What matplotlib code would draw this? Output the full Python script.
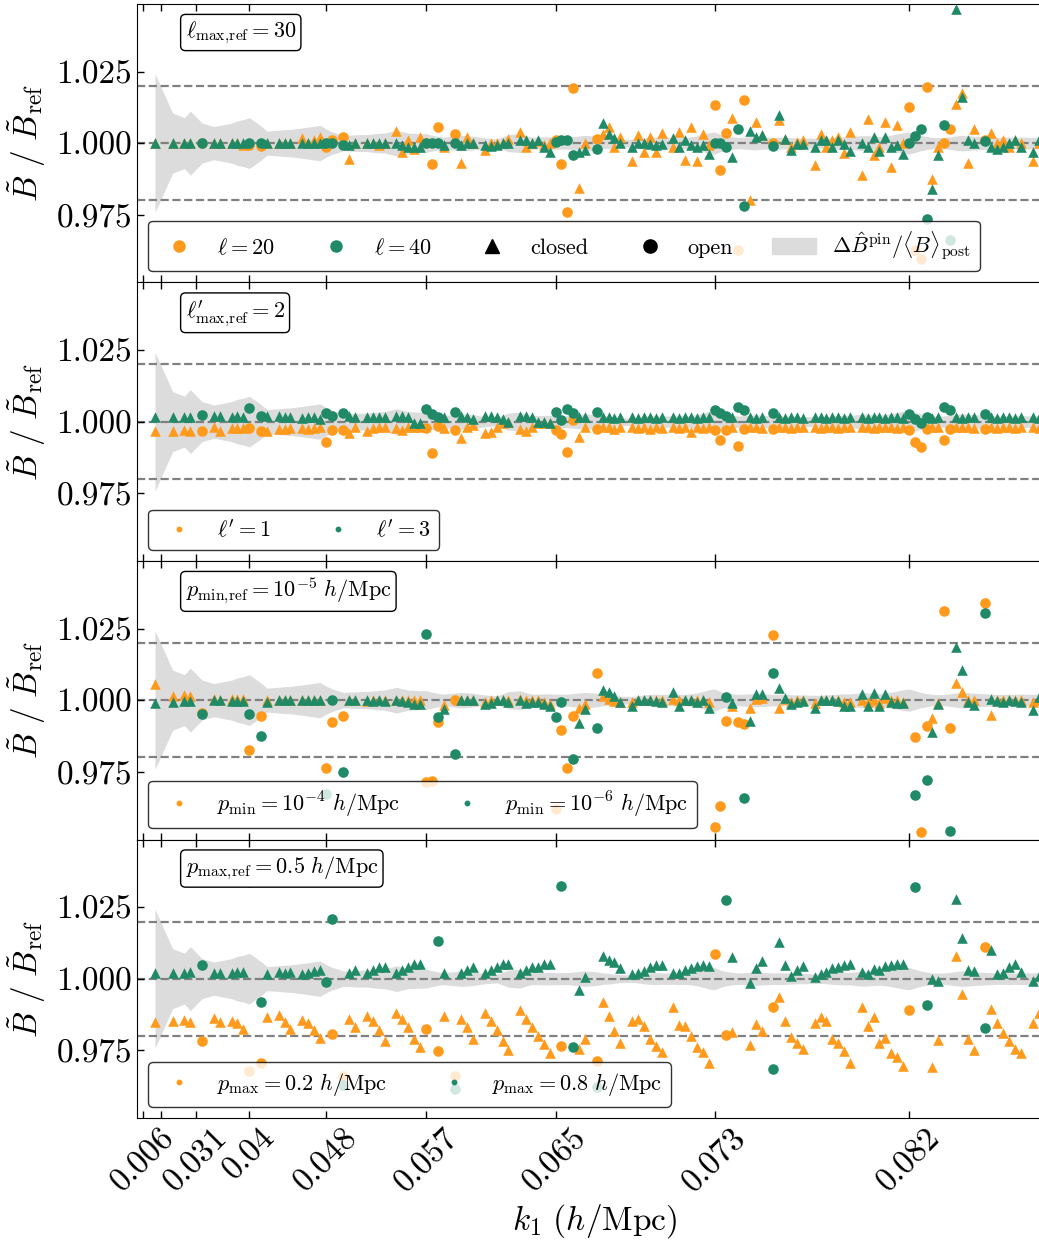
from __future__ import annotations

import matplotlib

matplotlib.use("Agg")
import matplotlib.pyplot as plt
import numpy as np
from matplotlib.lines import Line2D
from matplotlib.patches import Patch

nan = np.nan

# triangle configurations along the x axis (position in the sorted list)
tri_index = [
    2, 5, 7, 8, 10, 12, 13, 15, 16, 17,
    18, 20, 21, 23, 24, 25, 27, 28, 29, 30,
    31, 32, 34, 35, 36, 38, 39, 40, 41, 43,
    44, 45, 46, 47, 48, 49, 50, 51, 53, 54,
    55, 56, 58, 59, 60, 61, 62, 64, 65, 66,
    67, 68, 69, 70, 71, 72, 73, 74, 75, 77,
    78, 79, 80, 81, 83, 84, 85, 86, 87, 88,
    90, 91, 92, 93, 94, 95, 96, 97, 98, 99,
    100, 101, 102, 103, 104, 105, 107, 108, 109, 110,
    111, 112, 114, 115, 116, 117, 118, 119, 120, 122,
    123, 124, 125, 126, 127, 128, 129, 130, 131, 132,
    133, 134, 135, 136, 137, 138, 139, 140, 141, 143,
    144, 145, 146, 147, 148, 149, 151, 152,
]
# 1 = open triangle (circle marker), 0 = closed (triangle marker)
is_open = [
    0, 0, 0, 0, 1, 0, 0, 0, 0, 0,
    1, 1, 0, 0, 0, 0, 0, 0, 0, 0,
    1, 1, 1, 0, 0, 0, 0, 0, 0, 0,
    0, 0, 0, 0, 1, 1, 1, 0, 1, 0,
    0, 0, 0, 0, 0, 0, 0, 0, 0, 0,
    0, 0, 0, 1, 1, 1, 1, 0, 0, 1,
    0, 0, 0, 0, 0, 0, 0, 0, 0, 0,
    0, 0, 0, 0, 0, 0, 0, 1, 1, 1,
    0, 1, 1, 0, 0, 0, 1, 0, 0, 0,
    0, 0, 0, 0, 0, 0, 0, 0, 0, 0,
    0, 0, 0, 0, 0, 0, 0, 1, 1, 1,
    1, 0, 0, 1, 1, 0, 0, 0, 0, 1,
    0, 0, 0, 0, 0, 0, 0, 0,
]
# half width of the grey band, Delta B^pin / <B>_post
band_halfwidth = [
    0.0243, 0.0105, 0.0089, 0.0112, 0.0070, 0.0058, 0.0062, 0.0070, 0.0078, 0.0082,
    0.0089, 0.0060, 0.0042, 0.0045, 0.0047, 0.0048, 0.0053, 0.0056, 0.0059, 0.0062,
    0.0050, 0.0040, 0.0027, 0.0028, 0.0029, 0.0030, 0.0032, 0.0034, 0.0035, 0.0045,
    0.0040, 0.0035, 0.0034, 0.0033, 0.0033, 0.0028, 0.0024, 0.0021, 0.0025, 0.0027,
    0.0026, 0.0024, 0.0018, 0.0016, 0.0015, 0.0022, 0.0030, 0.0033, 0.0026, 0.0021,
    0.0021, 0.0022, 0.0022, 0.0021, 0.0021, 0.0021, 0.0023, 0.0025, 0.0027, 0.0024,
    0.0020, 0.0019, 0.0016, 0.0014, 0.0013, 0.0015, 0.0018, 0.0020, 0.0021, 0.0020,
    0.0020, 0.0021, 0.0020, 0.0022, 0.0025, 0.0030, 0.0036, 0.0039, 0.0030, 0.0025,
    0.0022, 0.0020, 0.0021, 0.0022, 0.0024, 0.0022, 0.0020, 0.0021, 0.0020, 0.0019,
    0.0018, 0.0018, 0.0017, 0.0017, 0.0018, 0.0020, 0.0021, 0.0022, 0.0022, 0.0026,
    0.0026, 0.0024, 0.0023, 0.0025, 0.0028, 0.0032, 0.0036, 0.0039, 0.0033, 0.0027,
    0.0023, 0.0020, 0.0019, 0.0020, 0.0022, 0.0025, 0.0027, 0.0026, 0.0024, 0.0022,
    0.0021, 0.0020, 0.0020, 0.0021, 0.0020, 0.0021, 0.0020, 0.0021,
]

# panel 1: ell = 20 and ell = 40 against ell_max,ref = 30
ratio_ell20 = [
    1.000, 1.000, 1.000, 1.000, 1.000, 1.000, 1.000, 1.000, 1.000, 0.9995,
    0.9995, 0.999, 1.000, 1.000, 1.000, 1.000, 1.0018, 1.000, 1.001, 1.0022,
    0.9986, 1.0012, 1.002, 0.9945, 1.000, 1.000, 1.000, 0.9995, 1.000, 1.0044,
    0.9968, 1.0012, 0.998, 1.0021, 1.000, 0.9927, 1.0056, 0.9986, 1.0033, 0.993,
    1.0021, 1.000, 0.9975, 1.000, 1.000, 1.000, 1.0015, 1.0039, 0.9985, 1.000,
    1.0007, 0.9995, 1.000, 1.0012, 0.9927, 0.9758, 1.0194, 0.9843, 1.000, 1.0015,
    1.0033, 1.0058, 0.9988, 1.0021, 0.9936, 1.0027, 0.9968, 1.0021, 0.9968, 1.0035,
    0.9986, 1.0039, 0.9942, 1.0058, 0.9937, 1.0033, 0.9995, 1.0132, 0.9906, 1.0036,
    1.0089, 0.9624, 1.0152, 0.9801, 1.0074, 1.0027, 1.000, 1.008, 1.0015, 0.9986,
    1.0004, 1.001, 0.9922, 1.0033, 0.9986, 1.001, 1.0023, 0.9965, 1.0039, 0.9889,
    1.0085, 0.996, 0.9986, 1.0074, 0.9918, 1.0062, 1.000, 1.0126, 0.9624, 0.9595,
    1.0196, 0.9875, 0.9986, 1.000, 1.005, 1.0138, 1.0175, 0.993, 1.005, 1.0012,
    1.0035, 1.000, 1.001, 0.9986, 1.001, 1.000, 0.9937, 1.000,
]
ratio_ell40 = [
    1.000, 1.000, 1.000, 1.000, 1.000, 1.000, 1.000, 1.000, 1.000, 1.000,
    1.000, 1.000, 1.000, 1.000, 1.000, 1.000, 1.000, 1.000, 1.000, 1.000,
    1.000, 1.000, 0.9995, 0.9995, 1.000, 1.000, 1.000, 1.000, 1.000, 1.000,
    0.9995, 0.9988, 0.9985, 0.9988, 1.000, 1.000, 1.000, 0.9995, 1.000, 0.9995,
    1.000, 1.000, 0.9995, 0.999, 0.9995, 1.000, 1.000, 1.0012, 1.001, 1.000,
    1.001, 0.9985, 0.9968, 1.0004, 1.001, 1.001, 0.996, 0.9968, 0.9977, 0.9978,
    1.007, 1.0033, 1.0019, 1.000, 0.9988, 1.000, 1.000, 0.9998, 0.9995, 0.9998,
    1.0019, 0.9986, 1.001, 0.9992, 0.9988, 0.9995, 0.9963, 1.000, 1.000, 0.9986,
    0.9953, 1.0048, 0.9779, 1.0042, 1.0021, 1.0027, 0.9989, 1.0097, 1.0015, 0.9977,
    0.9998, 0.9998, 0.9986, 1.001, 1.001, 0.9986, 1.001, 0.9998, 0.9974, 1.000,
    0.9988, 1.0023, 0.9974, 1.0023, 0.9986, 0.9995, 0.9963, 1.000, 1.0025, 1.005,
    0.9733, 0.984, 0.9957, 1.0064, 0.966, 1.0468, 1.0161, 1.0012, 1.000, 1.0007,
    0.9986, 0.998, 0.9988, 1.000, 1.0012, 0.9986, 0.9968, 1.0012,
]

# panel 2: ell' = 1 and ell' = 3 against ell'_max,ref = 2
ratio_ellp1 = [
    0.9968, 0.9968, 0.9971, 0.9968, 0.9967, 0.9982, 0.9968, 0.9977, 0.9977, 0.9977,
    0.9977, 0.9968, 0.9968, 0.9973, 0.9973, 0.9977, 0.9977, 0.9973, 0.9977, 0.9982,
    0.993, 0.9971, 0.9971, 0.9959, 0.9982, 0.9968, 0.9977, 0.9982, 0.9982, 0.9977,
    0.9971, 0.9982, 0.9982, 0.9982, 0.9977, 0.9889, 0.9986, 0.9977, 0.9971, 0.9942,
    0.9982, 0.9988, 0.9961, 0.9965, 0.9982, 0.9994, 1.000, 0.9973, 0.9968, 0.9982,
    0.9994, 0.9994, 0.9994, 0.9971, 0.9957, 0.9895, 1.0004, 0.9947, 0.9982, 0.9975,
    0.998, 0.998, 0.9975, 0.998, 0.9982, 0.9978, 0.998, 0.9975, 0.998, 0.9978,
    0.998, 0.9978, 0.998, 0.9965, 0.998, 0.9978, 0.998, 0.997, 0.9935, 0.997,
    0.998, 0.9915, 0.9975, 0.998, 0.998, 0.9978, 0.9975, 0.998, 0.998, 0.9978,
    0.998, 0.998, 0.998, 0.9978, 0.998, 0.998, 0.9978, 0.998, 0.998, 0.998,
    0.998, 0.9978, 0.998, 0.998, 0.998, 0.9978, 0.998, 0.997, 0.993, 0.991,
    0.9975, 0.998, 0.998, 0.9935, 0.9975, 0.998, 0.998, 0.998, 0.9978, 0.9975,
    0.998, 0.9978, 0.998, 0.998, 0.9978, 0.998, 0.998, 0.9978,
]
ratio_ellp3 = [
    1.0015, 1.0015, 1.0015, 1.0015, 1.0023, 1.0018, 1.0018, 1.0015, 1.0018, 1.0015,
    1.0047, 1.002, 1.0018, 1.0018, 1.0015, 1.0015, 1.0014, 1.0015, 1.0015, 1.0008,
    1.0029, 1.002, 1.0029, 1.0018, 1.0015, 1.0015, 1.0015, 1.0015, 1.0015, 1.0018,
    1.0018, 1.0015, 0.9994, 0.9994, 1.0043, 1.0027, 1.0015, 1.0015, 1.0032, 1.0018,
    1.0015, 1.0008, 1.0018, 1.002, 1.0015, 1.0008, 1.000, 1.0018, 1.0018, 1.0015,
    1.000, 1.000, 0.9994, 1.0032, 1.0006, 1.0043, 1.0029, 1.0015, 1.0015, 1.0035,
    1.0015, 1.0015, 1.0012, 1.0015, 1.0015, 1.0012, 1.0015, 1.0015, 1.0012, 1.0015,
    1.0015, 1.0012, 1.0015, 1.0015, 1.0012, 1.0015, 1.0015, 1.004, 1.003, 1.002,
    1.0015, 1.005, 1.004, 1.0015, 1.0012, 1.0015, 1.003, 1.0015, 1.0012, 1.0015,
    1.0015, 1.0012, 1.0015, 1.0015, 1.0012, 1.0015, 1.0015, 1.0012, 1.0015, 1.0015,
    1.0012, 1.0015, 1.0015, 1.0012, 1.0015, 1.0015, 1.0012, 1.0025, 1.001, 0.9995,
    1.0015, 1.0012, 1.0015, 1.005, 1.004, 1.0015, 1.0012, 1.0015, 1.0015, 1.0025,
    1.0015, 1.0012, 1.0015, 1.0015, 1.0012, 1.0015, 1.0015, 1.0012,
]

# panel 3: p_min = 1e-4 and 1e-6 h/Mpc against p_min,ref = 1e-5 h/Mpc
ratio_pmin4 = [
    1.0055, 1.0016, 1.0019, 1.0014, 0.9955, 1.0003, 1.0002, 1.0005, 1.0005, 1.0003,
    0.9827, 0.9946, 1.0002, 1.0002, 1.0002, 1.0002, 1.000, 1.000, 1.000, 1.000,
    0.9763, 0.9925, 0.9946, 1.0002, 1.0002, 0.9998, 1.0002, 1.0002, 1.000, 1.0002,
    1.0002, 1.0002, 1.000, 1.000, 0.9712, 0.9716, 0.9924, 0.9982, 1.000, 1.0002,
    1.0002, 1.0002, 0.9995, 1.000, 1.0002, 1.0002, 1.0002, 1.0003, 1.0002, 1.0002,
    1.000, 0.9995, 0.9985, 0.9619, 0.9894, 0.9763, 0.9946, 0.9973, 0.9985, 1.0094,
    1.0014, 1.0005, 0.9996, 0.9993, 0.9995, 1.0002, 1.0002, 1.0002, 1.0002, 1.000,
    1.0005, 1.000, 1.000, 1.0002, 1.0002, 1.000, 0.9995, 0.9556, 0.963, 0.9926,
    0.998, 0.9924, 0.9915, 0.9973, 1.0005, 1.0008, 1.0227, 0.9971, 1.0005, 0.9995,
    1.000, 1.000, 0.999, 1.000, 1.0002, 1.000, 1.000, 0.9995, 0.9995, 1.0002,
    0.9995, 1.000, 0.999, 1.0008, 1.000, 1.000, 0.9995, nan, 0.987, 0.9537,
    0.9909, 0.9938, 0.999, 1.0312, 0.9903, 1.0061, 1.0028, 1.0002, 1.000, 1.0339,
    0.9947, 1.000, 1.0002, 1.0002, 1.000, 1.0002, 0.9995, 1.0002,
]
ratio_pmin6 = [
    0.9991, 0.9993, 0.9996, 0.9996, 0.9953, 1.000, 1.000, 0.9998, 0.9998, 0.9998,
    0.9953, 0.9874, 0.9995, 1.000, 1.000, 1.000, 1.000, 1.000, 1.000, 1.000,
    0.9671, 0.9999, 0.975, 1.000, 1.000, 1.000, 0.9998, 1.000, 0.9998, 1.000,
    0.9998, 0.9995, 0.9988, 0.9985, 1.023, nan, 0.9942, 0.997, 0.9812, 1.000,
    1.000, 1.000, 0.9988, 0.999, 1.000, 1.000, 0.9995, 1.000, 0.999, 0.9995,
    0.9995, 0.9985, 0.998, 0.9942, 0.9993, nan, 0.9795, 0.992, 0.997, 0.9901,
    1.0037, 1.0028, 1.0014, 0.9993, 0.998, 1.000, 1.000, 1.000, 0.9998, 0.9995,
    1.0028, 0.998, 1.000, 1.000, 0.9995, 1.000, 0.9973, nan, nan, 1.0012,
    0.999, nan, 0.9657, 0.9926, 1.002, 1.0023, 1.0095, 1.0043, 1.0008, 0.9985,
    0.9995, 0.9998, 0.9973, 1.000, 1.000, 1.000, 0.9998, 0.998, 0.998, 1.0023,
    0.998, 1.0026, 0.998, 1.002, 0.9995, 0.999, 0.999, nan, 0.9667, nan,
    0.9719, 0.9889, 0.9985, nan, 0.9541, 1.0187, 1.0105, 0.9993, 0.9982, 1.0306,
    1.0005, 0.9998, 0.9995, 1.000, 0.9998, 0.9995, 0.9967, 1.0012,
]

# panel 4: p_max = 0.2 and 0.8 h/Mpc against p_max,ref = 0.5 h/Mpc
ratio_pmax02 = [
    0.9848, 0.9851, 0.9854, 0.9848, 0.9781, 0.9863, 0.9848, 0.9851, 0.9843, 0.9825,
    0.9677, 0.9705, 0.9865, 0.9871, 0.9848, 0.9825, 0.9854, 0.9843, 0.982, 0.9793,
    nan, 0.9807, 0.966, 0.986, 0.983, 0.987, 0.985, 0.982, 0.978, 0.988,
    0.986, 0.983, 0.979, 0.976, 0.9824, nan, 0.9747, 0.987, 0.966, 0.986,
    0.983, 0.979, 0.988, 0.985, 0.982, 0.978, 0.975, 0.989, 0.986, 0.983,
    0.980, 0.977, 0.974, nan, 0.9765, nan, nan, 0.9755, 0.9787, 0.9712,
    0.9917, 0.987, 0.9817, 0.9773, 0.9853, 0.9859, 0.9833, 0.979, 0.9765, 0.9744,
    0.9901, 0.9839, 0.9835, 0.980, 0.9759, 0.9744, 0.9703, 1.0085, nan, 0.9801,
    0.9812, nan, nan, 0.9767, 0.984, 0.9817, 0.9901, 0.9936, 0.9851, 0.9794,
    0.9773, 0.9755, 0.9845, 0.9866, 0.9853, 0.9788, 0.9775, 0.9746, 0.9705, 0.9901,
    0.9833, 0.9866, 0.9773, 0.9793, 0.9741, 0.9724, 0.9694, 0.9891, nan, nan,
    nan, 0.9691, 0.9785, nan, nan, 1.0078, 0.9948, 0.9787, 0.975, 1.0111,
    0.9892, 0.9845, 0.9811, 0.9781, 0.9755, 0.974, 0.9843, 0.988,
]
ratio_pmax08 = [
    1.0019, 1.002, 1.002, 1.0023, 1.0047, 1.002, 1.002, 1.0019, 1.0023, 1.0025,
    1.034, 0.9918, 1.0018, 1.0025, 1.002, 1.0025, 1.0016, 1.002, 1.0026, 1.003,
    0.9988, 1.0209, 0.9627, 1.002, 1.003, 1.002, 1.003, 1.004, 1.004, 1.002,
    1.003, 1.004, 1.005, 1.005, nan, nan, 1.0132, 1.002, 0.9615, 1.002,
    1.003, 1.004, 1.002, 1.003, 1.004, 1.005, 1.005, 1.002, 1.003, 1.004,
    1.004, 1.005, 1.005, nan, 1.0324, nan, 0.9761, 0.9959, 1.0006, 0.962,
    1.0078, 1.0066, 1.0058, 1.0037, 1.0017, 1.002, 1.0027, 1.0041, 1.0047, 1.0047,
    1.002, 1.002, 1.0029, 1.0037, 1.0044, 1.0048, 1.0045, nan, nan, 1.0274,
    1.0076, nan, nan, 0.9985, 1.0038, 1.0062, 0.9683, 1.013, 1.0048, 1.0008,
    1.0031, 1.0045, 1.0006, 1.0017, 1.0024, 1.0038, 1.0041, 1.0048, 1.0052, 1.0023,
    1.0017, 1.0034, 1.0031, 1.0043, 1.0047, 1.005, 1.005, nan, 1.032, nan,
    0.9909, 1.000, 0.9992, nan, nan, 1.0278, 1.0142, 1.0029, 1.0027, 0.9828,
    1.0101, 1.0017, 1.002, 1.0041, 1.0052, 1.0023, 0.9992, 1.0008,
]

k1_tick_index = [0, 3, 9, 18, 31, 48, 70, 97, 130]
k1_tick_labels = ["0.006", "", "0.031", "0.04", "0.048", "0.057", "0.065", "0.073", "0.082"]

panel_refs = [
    r"$\ell_{\rm max,\!ref} = 30$",
    r"$\ell^{\prime}_{\rm max,\!ref} = 2$",
    r"$p_{\rm min,\!ref} = 10^{-5}\ h/{\rm Mpc}$",
    r"$p_{\rm max,\!ref} = 0.5\ h/{\rm Mpc}$",
]
panel_labels = [
    (r"$\ell = 20$", r"$\ell = 40$"),
    (r"$\ell^{\prime} = 1$", r"$\ell^{\prime} = 3$"),
    (r"$p_{\rm min} = 10^{-4}\ h/{\rm Mpc}$", r"$p_{\rm min} = 10^{-6}\ h/{\rm Mpc}$"),
    (r"$p_{\rm max} = 0.2\ h/{\rm Mpc}$", r"$p_{\rm max} = 0.8\ h/{\rm Mpc}$"),
]
panel_values = [
    (ratio_ell20, ratio_ell40),
    (ratio_ellp1, ratio_ellp3),
    (ratio_pmin4, ratio_pmin6),
    (ratio_pmax02, ratio_pmax08),
]

ORANGE = "#FF9A1C"
GREEN = "#208A66"
BAND = "#DCDCDC"


def main() -> None:
    plt.rcParams.update(
        {
            "font.family": "serif",
            "font.serif": ["cmr10", "DejaVu Serif"],
            "mathtext.fontset": "cm",
            "axes.formatter.use_mathtext": True,
            "axes.unicode_minus": False,
        }
    )
    fig, axes = plt.subplots(4, 1, figsize=(10.39, 12.42), dpi=100, sharex=True)
    fig.subplots_adjust(left=0.1319, right=1.012, top=0.9968, bottom=0.0998, hspace=0)

    x = np.array(tri_index, dtype=float)
    is_circle = np.array(is_open, dtype=bool)
    band = np.array(band_halfwidth)

    for i, ax in enumerate(axes):
        ax.fill_between(x, 1 - band, 1 + band, color=BAND, lw=0, zorder=0)
        for level in (0.98, 1.0, 1.02):
            ax.axhline(level, color="gray", ls="--", lw=1.6, zorder=1)
        for values, color in zip(panel_values[i], (ORANGE, GREEN)):
            y = np.array(values, dtype=float)
            ax.scatter(x[~is_circle], y[~is_circle], marker="^", s=58, color=color, lw=0, zorder=3)
            ax.scatter(x[is_circle], y[is_circle], marker="o", s=58, color=color, lw=0, zorder=3)

        ax.set_xlim(-1.05, 154.2)
        ax.set_ylim(0.9512, 1.0487)
        ax.set_yticks([0.975, 1.0, 1.025])
        ax.set_yticklabels(["0.975", "1.000", "1.025"])
        ax.tick_params(axis="both", which="major", direction="in", top=True, right=True,
                       length=5, width=1, labelsize=24)
        ax.set_ylabel(r"$\tilde{B}\ /\ \tilde{B}_{\rm ref}$", fontsize=24, labelpad=6)

        ax.text(0.053, 0.945, panel_refs[i], transform=ax.transAxes, fontsize=16,
                ha="left", va="top",
                bbox=dict(boxstyle="round,pad=0.22", fc="white", ec="black", lw=1))

        lab_a, lab_b = panel_labels[i]
        if i == 0:
            handles = [
                Line2D([], [], marker="o", ls="none", color=ORANGE, markersize=8, label=lab_a),
                Line2D([], [], marker="o", ls="none", color=GREEN, markersize=8, label=lab_b),
                Line2D([], [], marker="^", ls="none", color="black", markersize=9.5, label="closed"),
                Line2D([], [], marker="o", ls="none", color="black", markersize=9.5, label="open"),
                Patch(color=BAND, label=r"$\Delta \hat{B}^{\rm pin} / \langle B \rangle_{\rm post}$"),
            ]
            ncol = 5
        else:
            handles = [
                Line2D([], [], marker="o", ls="none", color=ORANGE, markersize=3.2, label=lab_a),
                Line2D([], [], marker="o", ls="none", color=GREEN, markersize=3.2, label=lab_b),
            ]
            ncol = 2
        leg = ax.legend(handles=handles, loc="lower left", ncol=ncol, fontsize=16,
                        edgecolor="black", fancybox=True, handletextpad=0.7,
                        columnspacing=1.75 if i == 0 else 2.0)
        leg.get_frame().set_linewidth(1.0)

    axes[-1].set_xticks(k1_tick_index)
    axes[-1].set_xticklabels(k1_tick_labels, rotation=45)
    axes[-1].set_xlabel(r"$k_1\ (h/{\rm Mpc})$", fontsize=24)

    fig.savefig("out.png", dpi=100)
    plt.close(fig)


if __name__ == "__main__":
    main()
